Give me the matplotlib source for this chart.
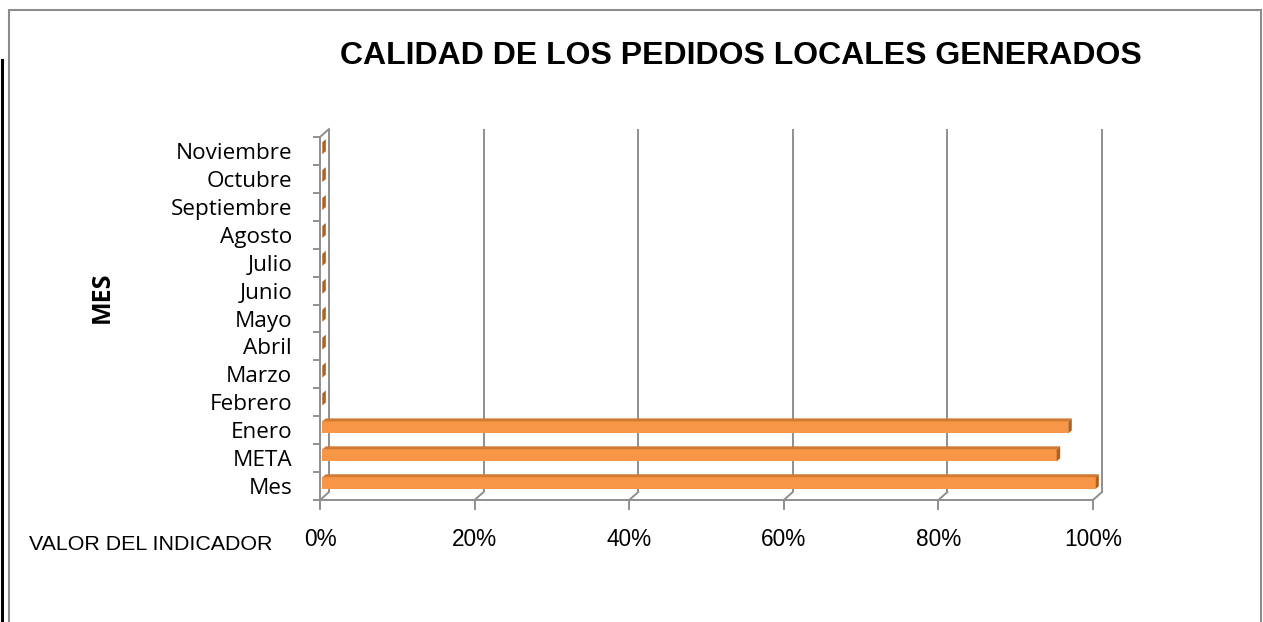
import matplotlib
matplotlib.use("Agg")
import matplotlib.pyplot as plt
import matplotlib.transforms as mtransforms
from matplotlib.patches import Polygon, Rectangle
from matplotlib.lines import Line2D

# ---- data ----
categories = ["Mes", "META", "Enero", "Febrero", "Marzo", "Abril", "Mayo",
              "Junio", "Julio", "Agosto", "Septiembre", "Octubre", "Noviembre"]
values = [1.00, 0.95, 0.965, 0, 0, 0, 0, 0, 0, 0, 0, 0, 0]
xticks = [0, 0.2, 0.4, 0.6, 0.8, 1.0]
xticklabels = ["0%", "20%", "40%", "60%", "80%", "100%"]
title = "CALIDAD DE LOS PEDIDOS LOCALES GENERADOS"

W, H = 1263, 622
fig = plt.figure(figsize=(W / 100, H / 100), dpi=100)

# front plane of plot in pixels
x0, x1 = 320, 1093
ytop, ybot = 137, 500
ax = fig.add_axes([x0 / W, (H - ybot) / H, (x1 - x0) / W, (ybot - ytop) / H])
n = len(categories)
ax.set_xlim(0, 1)
ax.set_ylim(-0.5, n - 0.5)
for s in ax.spines.values():
    s.set_visible(False)

gray = "#8f8f8f"
lw = 1.4

def off(dx_px, dy_px):
    return ax.transData + mtransforms.ScaledTranslation(dx_px / 100, dy_px / 100, fig.dpi_scale_trans)

back = off(9, 8)
# back gridlines / walls
ax.vlines(xticks, -0.5, n - 0.5, colors=gray, lw=lw, transform=back, zorder=1, clip_on=False)
# floor diagonals
for xv in xticks:
    p0 = ax.transData.transform((xv, -0.5))
    p1 = back.transform((xv, -0.5))
    fig.add_artist(Line2D([p0[0] / W, p1[0] / W], [p0[1] / H, p1[1] / H], color=gray, lw=lw))
ax.plot([0, 1], [-0.5, -0.5], color=gray, lw=lw, zorder=1, clip_on=False)
ax.plot([0, 0], [-0.5, n - 0.5], color=gray, lw=lw, zorder=1, clip_on=False)
p0 = ax.transData.transform((0, n - 0.5))
p1 = back.transform((0, n - 0.5))
fig.add_artist(Line2D([p0[0] / W, p1[0] / W], [p0[1] / H, p1[1] / H], color=gray, lw=lw))

# bars with 3D faces
front_c = "#F79646"
top_c = "#D27A33"
side_c = "#B0601F"
h = 0.43
shift = 0.1
bx0 = 0.003
ddx, ddy = 3.5, 3.0
dx_u = ddx / (x1 - x0)
dy_u = ddy / ((ybot - ytop) / n)
for i, v in enumerate(values):
    yc = i + shift
    yb, yt = yc - h / 2, yc + h / 2
    xe = bx0 + v
    if v > 0:
        ax.barh(yc, v, left=bx0, height=h, color=front_c, zorder=3, clip_on=False)
        ax.add_patch(Polygon([(bx0, yt), (xe, yt), (xe + dx_u, yt + dy_u), (bx0 + dx_u, yt + dy_u)],
                             closed=True, color=top_c, lw=0, zorder=3, clip_on=False))
    ax.add_patch(Polygon([(xe, yb), (xe + dx_u, yb + dy_u), (xe + dx_u, yt + dy_u), (xe, yt)],
                         closed=True, color=side_c, lw=0, zorder=3, clip_on=False))

# y ticks: marks at boundaries, labels at centers
ax.set_yticks([i - 0.5 for i in range(n + 1)])
ax.set_yticklabels([])
ax.set_yticks(range(n), minor=True)
ax.set_yticklabels(categories, minor=True, fontsize=16.2, family="Open Sans")
ax.tick_params(axis="y", which="major", length=5, width=lw, color=gray, direction="out")
ax.tick_params(axis="y", which="minor", length=0, pad=20)

ax.set_xticks(xticks)
ax.set_xticklabels(xticklabels, fontsize=16.3, family="Liberation Sans")
ax.tick_params(axis="x", which="major", length=7, width=lw, color=gray, direction="out", pad=13)

# title and axis labels
fig.text(741 / W, 1 - 56 / H, title, ha="center", va="center", fontsize=23,
         fontweight="bold", family="Liberation Sans")
fig.text(102 / W, 1 - 297 / H, "MES", rotation=90, ha="center", va="center",
         fontsize=18, fontweight="bold", family="Open Sans")
fig.text(151 / W, 1 - 544 / H, "VALOR DEL INDICADOR", ha="center", va="center",
         fontsize=15.4, family="Liberation Sans")

# chart border and page edge
fig.add_artist(Rectangle((9 / W, -0.1), (1261 - 9) / W, 1.1 - 10 / H, transform=fig.transFigure,
                         fill=False, edgecolor="#8c8c8c", lw=1.5))
fig.add_artist(Line2D([1.5 / W, 1.5 / W], [0, 1 - 60 / H], color="black", lw=2.2))

fig.savefig("out.png", dpi=100)
